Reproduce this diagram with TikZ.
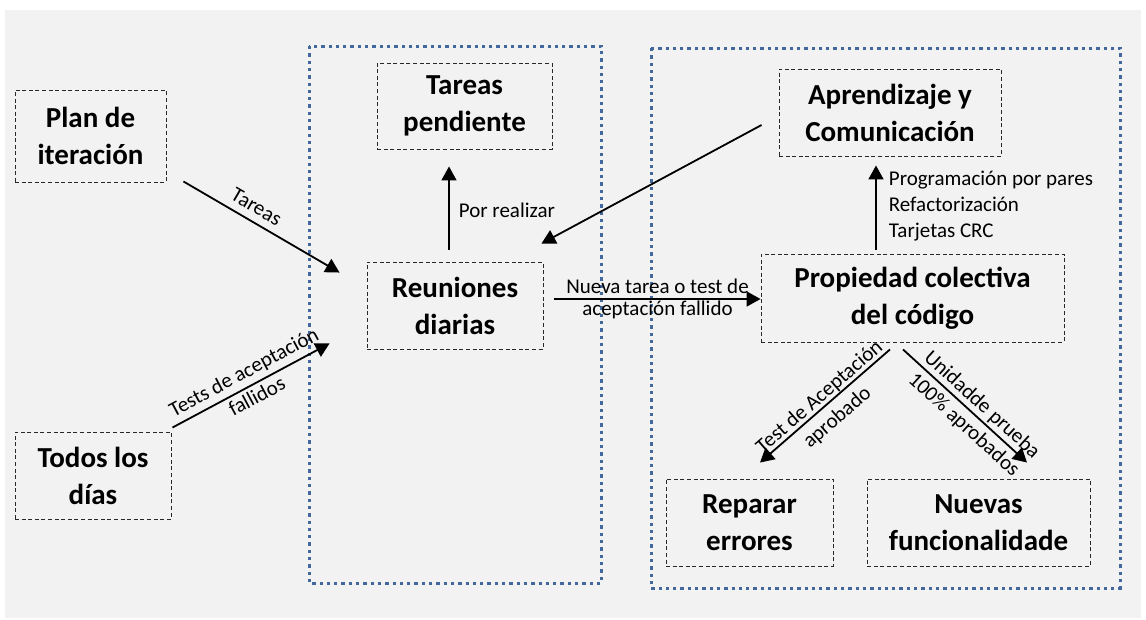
\documentclass[tikz,border=0pt]{standalone}
\usepackage{fontspec}
\setmainfont{Carlito}
\usetikzlibrary{calc,arrows.meta}

\definecolor{panelgray}{RGB}{242,242,242}
\definecolor{groupblue}{RGB}{66,104,158}
\definecolor{boxline}{RGB}{40,40,40}

\tikzset{
  stepbox/.style={draw=boxline, line width=0.9pt, dash pattern=on 4pt off 2.6pt,
    align=center, inner sep=0pt,
    font=\fontsize{29}{37}\selectfont\bfseries},
  groupframe/.style={draw=groupblue, line width=3pt, dash pattern=on 3.3pt off 4pt},
  flow/.style={line width=1.8pt, -{Triangle[length=14pt,width=15pt]}},
  lbl/.style={font=\fontsize{21}{26}\selectfont, inner sep=0pt, anchor=center},
}

\begin{document}
\begin{tikzpicture}[x=1pt,y=-1pt]
  % canvas and grey panel
  \useasboundingbox (0,0) rectangle (1146,619);
  \fill[white] (0,0) rectangle (1146,619);
  \fill[panelgray] (5,10) rectangle (1141,618);

  % group frames
  \draw[groupframe] (309,46) rectangle (601,583);
  \draw[groupframe] (651,48) rectangle (1120,588);

  % activity boxes
  \node[stepbox, minimum width=151pt, minimum height=92pt] (plan) at (90.5,136) {Plan de\\iteración};
  \node[stepbox, minimum width=156pt, minimum height=87pt] (todos) at (93,475.5) {Todos los\\días};
  \node[stepbox, minimum width=175pt, minimum height=86pt] (pend) at (464.5,106) {Tareas\\pendiente};
  \node[stepbox, minimum width=176pt, minimum height=87pt] (reun) at (455,305.5) {Reuniones\\diarias};
  \node[stepbox, minimum width=222pt, minimum height=87pt] (apren) at (890,112.5) {Aprendizaje y\\Comunicación};
  \node[stepbox, minimum width=303pt, minimum height=88pt] (prop) at (912.5,298) {Propiedad colectiva\\del código};
  \node[stepbox, minimum width=167pt, minimum height=87pt] (rep) at (749.5,522.5) {Reparar\\errores};
  \node[stepbox, minimum width=223pt, minimum height=87pt] (nuev) at (978.5,522.5) {Nuevas\\funcionalidade};

  % connector ends
  \coordinate (tarS) at ($(plan.south east)+(17,-1)$);
  \coordinate (tarE) at ($(reun.north west)+(-27,11)$);
  \coordinate (tstS) at ($(todos.north east)+(1,-4)$);
  \coordinate (tstE) at ($(reun.south west)+(-37,-6)$);
  \coordinate (porS) at ($(reun.north)+(-6,-12)$);
  \coordinate (porE) at ($(pend.south)+(-15.5,17)$);
  \coordinate (aprS) at ($(apren.west)+(-17,12.5)$);
  \coordinate (aprE) at ($(reun.north east)+(-2,-18)$);
  \coordinate (nueS) at ($(reun.east)+(11,-6.5)$);
  \coordinate (upS)  at ($(prop.north)+(-36.5,-4)$);
  \coordinate (upE)  at ($(apren.south)+(-14,9)$);
  \coordinate (tacS) at ($(prop.south)+(-22.5,7)$);
  \coordinate (tacE) at ($(rep.north)+(10.5,-16)$);
  \coordinate (uniS) at ($(prop.south)+(-9.5,7)$);
  \coordinate (uniE) at ($(nuev.north)+(48.5,-16)$);

  % connectors
  \draw[flow] (tarS) -- node[lbl, sloped, pos=0.42, yshift=15pt] {Tareas} (tarE);
  \draw[flow] (tstS) -- node[lbl, sloped, pos=0.5, yshift=14pt] {Tests de aceptación}
                        node[lbl, sloped, pos=0.5, yshift=-12pt] {fallidos} (tstE);
  \draw[flow] (porS) -- node[lbl, anchor=west, xshift=9pt, yshift=-2pt] {Por realizar} (porE);
  \draw[flow] (aprS) -- (aprE);
  \draw[flow] (nueS) -- node[lbl, yshift=13pt] {Nueva tarea o test de}
                        node[lbl, yshift=-11pt] {aceptación fallido} (nueS -| prop.west);
  \draw[flow] (upS) -- node[lbl, anchor=west, align=left, xshift=12pt, yshift=1pt]
      {Programación por pares\\Refactorización\\Tarjetas CRC} (upE);
  \draw[flow] (tacS) -- node[lbl, sloped, pos=0.49, yshift=10pt] {Test de Aceptación}
                        node[lbl, sloped, pos=0.49, yshift=-17pt] {aprobado} (tacE);
  \draw[flow] (uniS) -- node[lbl, sloped, pos=0.57, yshift=12pt] {Unidadde prueba}
                        node[lbl, sloped, pos=0.57, yshift=-15pt] {100\% aprobados} (uniE);
\end{tikzpicture}
\end{document}
